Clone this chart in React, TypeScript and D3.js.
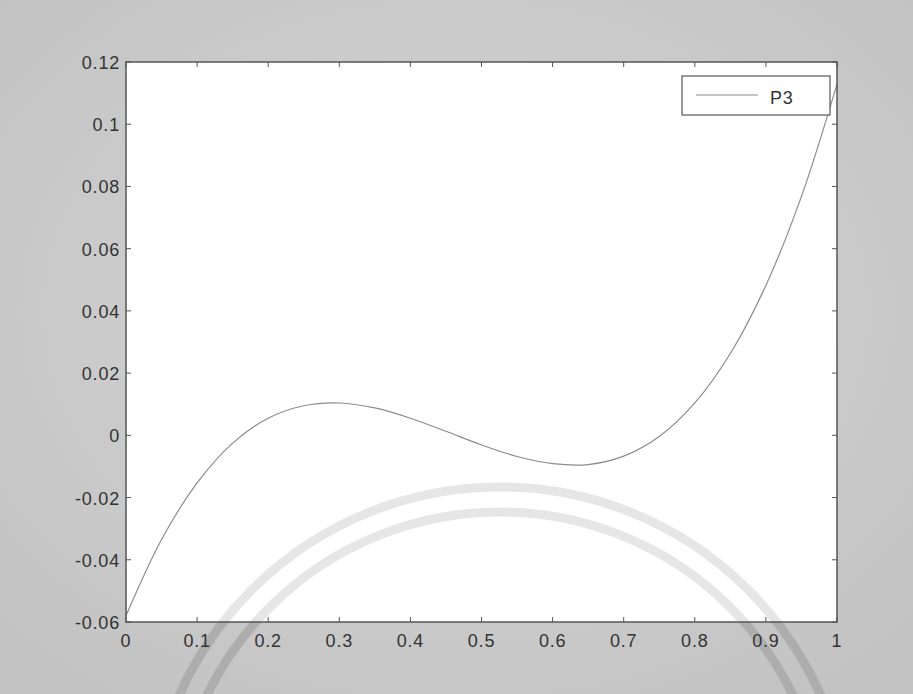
import React, { useEffect, useRef } from "react";
import * as d3 from "d3";

const xValues = [0, 0.05, 0.1, 0.15, 0.2, 0.25, 0.3, 0.35, 0.4, 0.45, 0.5, 0.55, 0.6, 0.65, 0.7, 0.75, 0.8, 0.85, 0.9, 0.95, 1];
const p3Values = [-0.058, -0.0335, -0.0153, -0.0025, 0.0055, 0.0095, 0.0104, 0.0088, 0.0055, 0.0013, -0.0031, -0.0068, -0.0091, -0.0094, -0.0067, -0.0004, 0.0104, 0.0263, 0.0482, 0.0768, 0.1129];
const xTicks = [0, 0.1, 0.2, 0.3, 0.4, 0.5, 0.6, 0.7, 0.8, 0.9, 1];
const yTicks = [-0.06, -0.04, -0.02, 0, 0.02, 0.04, 0.06, 0.08, 0.1, 0.12];
const seriesName = "P3";

const W = 913, H = 694;
const L = 126, R = 837, T = 62, B = 622;

const fmt = (v: number) => d3.format("~g")(v).replace("\u2212", "-");

export default function App() {
  const ref = useRef<SVGSVGElement>(null);
  useEffect(() => {
    const svg = d3.select(ref.current);
    svg.selectAll("*").remove();
    const x = d3.scaleLinear().domain([0, 1]).range([L, R]);
    const y = d3.scaleLinear().domain([-0.06, 0.12]).range([B, T]);

    const defs = svg.append("defs");
    const grad = defs.append("radialGradient").attr("id", "bg").attr("cx", "50%").attr("cy", "45%").attr("r", "70%");
    grad.append("stop").attr("offset", "0%").attr("stop-color", "#d6d6d6");
    grad.append("stop").attr("offset", "100%").attr("stop-color", "#c2c2c2");
    defs.append("clipPath").attr("id", "plotclip").append("rect")
      .attr("x", L).attr("y", T).attr("width", R - L).attr("height", B - T);
    svg.append("rect").attr("width", W).attr("height", H).attr("fill", "url(#bg)");

    const arcs = (g: any) => {
      g.append("circle").attr("cx", 500).attr("cy", 838).attr("r", 351);
      g.append("circle").attr("cx", 500).attr("cy", 838).attr("r", 326);
    };
    const wm = svg.append("g").attr("fill", "none").attr("stroke", "#adadad").attr("stroke-width", 9);
    arcs(wm);

    svg.append("rect").attr("x", L).attr("y", T).attr("width", R - L).attr("height", B - T).attr("fill", "#ffffff");

    const wm2 = svg.append("g").attr("clip-path", "url(#plotclip)").attr("fill", "none").attr("stroke", "#e6e6e6").attr("stroke-width", 9);
    arcs(wm2);

    const line = d3.line<number>()
      .x((_, i) => x(xValues[i]))
      .y((d) => y(d))
      .curve(d3.curveCatmullRom);
    svg.append("path").datum(p3Values).attr("d", line).attr("fill", "none").attr("stroke", "#8c8c8c").attr("stroke-width", 1.2);

    svg.append("rect").attr("x", L).attr("y", T).attr("width", R - L).attr("height", B - T)
      .attr("fill", "none").attr("stroke", "#555").attr("stroke-width", 1.5);

    const tk = 5;
    const g = svg.append("g").attr("stroke", "#555").attr("stroke-width", 1);
    xTicks.forEach((t) => {
      g.append("line").attr("x1", x(t)).attr("x2", x(t)).attr("y1", B).attr("y2", B - tk);
      g.append("line").attr("x1", x(t)).attr("x2", x(t)).attr("y1", T).attr("y2", T + tk);
    });
    yTicks.forEach((t) => {
      g.append("line").attr("x1", L).attr("x2", L + tk).attr("y1", y(t)).attr("y2", y(t));
      g.append("line").attr("x1", R).attr("x2", R - tk).attr("y1", y(t)).attr("y2", y(t));
    });

    // legend
    svg.append("rect").attr("x", 682).attr("y", 76).attr("width", 148).attr("height", 39)
      .attr("fill", "#fff").attr("stroke", "#555").attr("stroke-width", 1.2);
    svg.append("line").attr("x1", 696).attr("x2", 758).attr("y1", 95).attr("y2", 95).attr("stroke", "#8c8c8c").attr("stroke-width", 1.2);

    const txt = svg.append("g").attr("font-family", "'Liberation Sans', Arial, sans-serif").attr("font-size", 18)
      .attr("letter-spacing", 0.8).attr("fill", "#333");
    xTicks.forEach((t) => {
      txt.append("text").attr("x", x(t)).attr("y", B + 25).attr("text-anchor", "middle").text(fmt(t));
    });
    yTicks.forEach((t) => {
      txt.append("text").attr("x", L - 6).attr("y", y(t) + 7).attr("text-anchor", "end").text(fmt(t));
    });
    txt.append("text").attr("x", 770).attr("y", 104).text(seriesName);
  }, []);
  return (
    <svg ref={ref} width={W} height={H} style={{ position: "absolute", left: 0, top: 0 }} />
  );
}
